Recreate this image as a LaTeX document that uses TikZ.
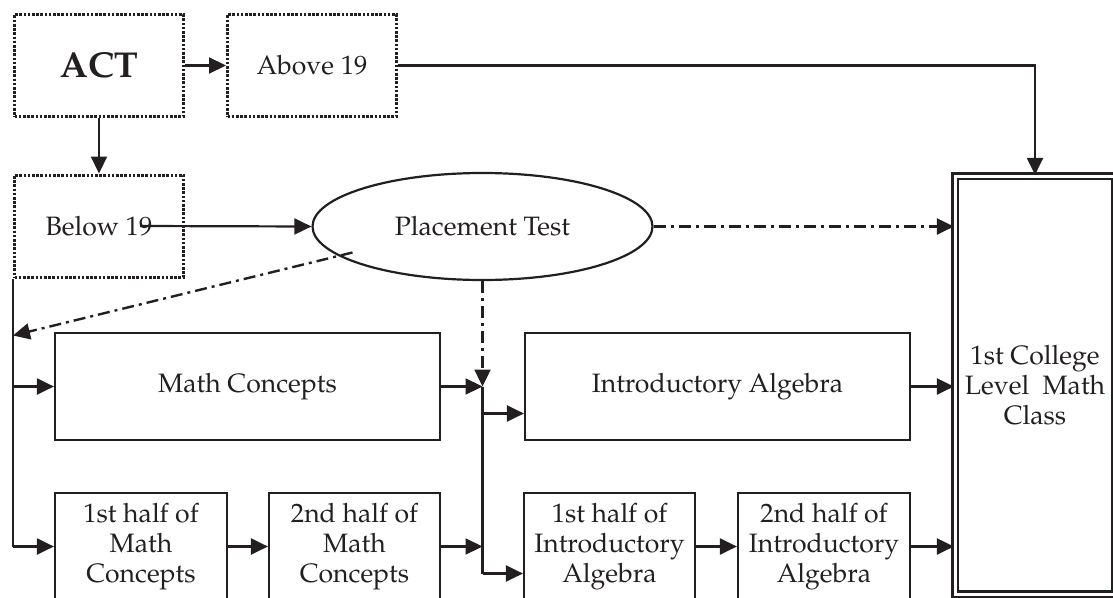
\documentclass[tikz,border=0pt]{standalone}
\usepackage[T1]{fontenc}
\usepackage{mathpazo}
\usetikzlibrary{shapes.geometric,arrows.meta}
\definecolor{ink}{HTML}{231F20}

\begin{document}
\begin{tikzpicture}
[x=1pt, y=-1pt,
 every node/.style={inner sep=0pt, font=\fontsize{26.6}{30}\selectfont, text=ink},
 dotbox/.style={rectangle, draw=ink, line width=3pt, dash pattern=on 2.6pt off 1.6pt, minimum width=169pt, minimum height=102pt},
 box/.style={rectangle, draw=ink, line width=2.2pt, minimum height=107pt, align=center},
 arr/.style={line width=2.2pt, draw=ink, -{Triangle[length=17pt,width=16pt]}},
 dasharr/.style={arr, line width=2.4pt, dash pattern=on 12pt off 5pt on 3pt off 5pt}]
\useasboundingbox (0,0) rectangle (1113,597);
\node (act) [dotbox, font=\bfseries\fontsize{36}{40}\selectfont] at (99, 65.5) {ACT};
\node (above) [dotbox] at (312, 65.5) {Above 19};
\node (below) [dotbox] at (99, 226) {Below 19};
\node (place) [ellipse, draw=ink, line width=2.2pt, minimum width=340pt, minimum height=107pt] at (482.5, 226.5) {Placement Test};
\node (mc) [box, minimum width=385pt] at (247.5, 386.5) {Math Concepts};
\node (ia) [box, minimum width=385pt] at (717.5, 386.5) {Introductory Algebra};
\node (h1mc) [box, minimum width=172pt] at (141, 546.5) {1st half of\\Math\\Concepts};
\node (h2mc) [box, minimum width=171pt] at (354.5, 546.5) {2nd half of\\Math\\Concepts};
\node (h1ia) [box, minimum width=171pt] at (609.5, 546.5) {1st half of\\Introductory\\Algebra};
\node (h2ia) [box, minimum width=172pt] at (824, 546.5) {2nd half of\\Introductory\\Algebra};
\node (college) [rectangle, draw=ink, line width=2.2pt, double=white, double distance=3pt, minimum width=160pt, minimum height=418pt, align=center] at (1035, 385) {1st College\\Level\ \ Math\\Class};
\coordinate (join) at (place.south |- mc.east);
% top row
\draw [arr] (act) -- (above);
\draw [arr] (act) -- (below);
\draw [arr] (above) -| (college);
\draw [arr] ([xshift=41pt]below.center) -- (place.west);
\draw [dasharr] (place) -- (place -| college.west);
\draw [dasharr] ([shift={(-130,26)}]place.center) -- ([yshift=-57pt]below.south west);
% left trunk
\draw [line width=2.2pt, draw=ink] (below.south west) -- (below.south west |- h1mc.west);
\draw [arr] (below.south west |- mc.west) -- (mc.west);
\draw [arr] (below.south west |- h1mc.west) -- (h1mc.west);
% middle trunk
\draw [dasharr] (place.south) -- (join);
\draw [arr] (mc) -- (join);
\draw [line width=2.2pt, draw=ink] (join) -- ([yshift=-27pt]join |- h1ia.west);
\draw [arr] ([yshift=-27pt]join |- ia.west) -- ([yshift=-27pt]ia.west);
\draw [arr] ([yshift=-27pt]join |- h1ia.west) -- ([yshift=-27pt]h1ia.west);
\draw [arr] (h2mc) -- (h2mc -| join);
\draw [arr] (h1mc) -- (h2mc);
\draw [arr] (h1ia) -- (h2ia);
% into the class
\draw [arr] (ia) -- (ia -| college.west);
\draw [arr] (h2ia) -- (h2ia -| college.west);
\end{tikzpicture}
\end{document}
